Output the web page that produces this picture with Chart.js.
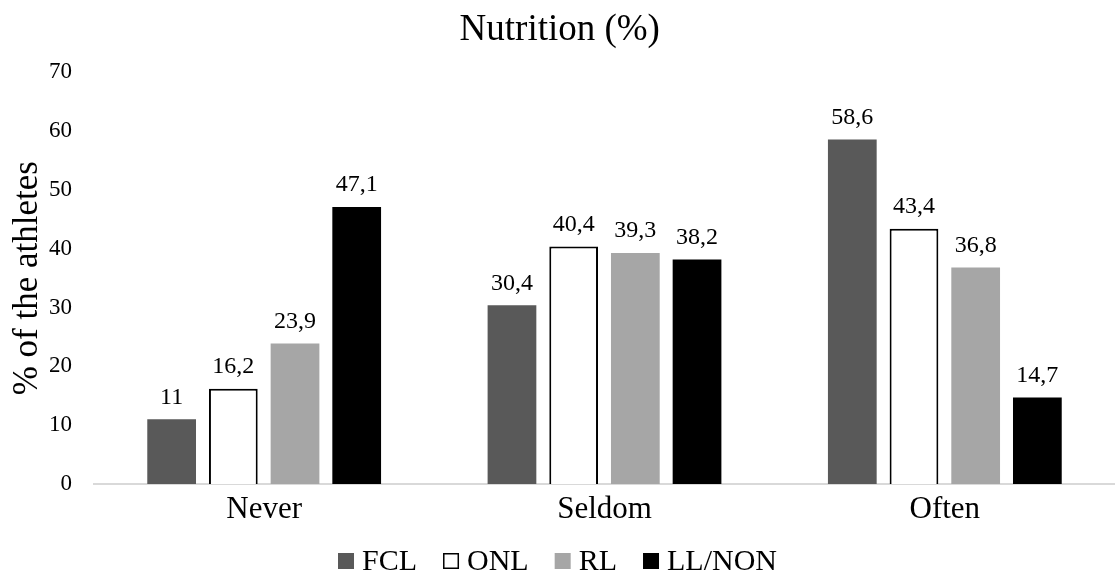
<!DOCTYPE html>
<html>
<head>
<meta charset="utf-8">
<script src="https://cdn.jsdelivr.net/npm/chart.js@4.4.1/dist/chart.umd.min.js"></script>
<style>
  html, body { margin: 0; padding: 0; background: #fff; }
  #wrap { width: 1115px; height: 576px; overflow: hidden; }
</style>
</head>
<body>
<div id="wrap"><canvas id="nutritionChart" width="1115" height="576"></canvas></div>
<script>
// categories and values
const categories = ['Never', 'Seldom', 'Often'];
const fcl = [11, 30.4, 58.6];
const onl = [16.2, 40.4, 43.4];
const rl = [23.9, 39.3, 36.8];
const llNon = [47.1, 38.2, 14.7];
const yTicks = [0, 10, 20, 30, 40, 50, 60, 70];

const serif = '"Liberation Serif", "Times New Roman", serif';

// draws the value above each bar (decimal comma, like the original)
const barValues = {
    id: 'barValues',
    afterDatasetsDraw(chart) {
        const ctx = chart.ctx;
        ctx.save();
        ctx.font = '24px ' + serif;
        ctx.fillStyle = '#000';
        ctx.textAlign = 'center';
        ctx.textBaseline = 'bottom';
        chart.data.datasets.forEach((ds, i) => {
            const meta = chart.getDatasetMeta(i);
            meta.data.forEach((bar, j) => {
                const txt = String(ds.data[j]).replace('.', ',');
                ctx.fillText(txt, bar.x, bar.y - 10);
            });
        });
        ctx.restore();
    }
};

// legend like excel's: small square, short gap, then the name
const bottomLegend = {
    id: 'bottomLegend',
    afterDraw(chart) {
        const ctx = chart.ctx;
        const box = 16, gap = 8, space = 26, y = 561;
        ctx.save();
        ctx.font = '30px ' + serif;
        ctx.textBaseline = 'middle';
        ctx.textAlign = 'left';
        const items = chart.data.datasets.map(ds => ({ ds: ds, w: box + gap + ctx.measureText(ds.label).width }));
        const total = items.reduce((s, it) => s + it.w, 0) + space * (items.length - 1);
        let x = chart.width / 2 - total / 2;
        items.forEach(it => {
            const ds = it.ds;
            ctx.fillStyle = ds.backgroundColor;
            ctx.fillRect(x, y - box / 2, box, box);
            if (ds.borderWidth) {
                ctx.lineWidth = 1.5;
                ctx.strokeStyle = ds.borderColor;
                ctx.strokeRect(x + 0.75, y - box / 2 + 0.75, box - 1.5, box - 1.5);
            }
            ctx.fillStyle = '#000';
            ctx.fillText(ds.label, x + box + gap, y + 1);
            x += it.w + space;
        });
        ctx.restore();
    }
};

const ctx = document.getElementById('nutritionChart').getContext('2d');
new Chart(ctx, {
    type: 'bar',
    data: {
        labels: categories,
        datasets: [
            { label: 'FCL', data: fcl, backgroundColor: '#595959', borderWidth: 0 },
            { label: 'ONL', data: onl, backgroundColor: '#ffffff', borderColor: '#000000', borderWidth: 2 },
            { label: 'RL', data: rl, backgroundColor: '#a6a6a6', borderWidth: 0 },
            { label: 'LL/NON', data: llNon, backgroundColor: '#000000', borderWidth: 0 }
        ]
    },
    options: {
        responsive: false,
        animation: false,
        categoryPercentage: 0.725,
        barPercentage: 0.79,
        // the original is cropped on the right, so the plot runs past the edge
        layout: { padding: { left: 0, right: -4.5, top: 0, bottom: 40 } },
        plugins: {
            tooltip: { enabled: false },
            legend: { display: false },
            title: {
                display: true,
                text: 'Nutrition (%)',
                color: '#000',
                font: { family: serif, size: 37, weight: 'normal' },
                padding: { top: 8, bottom: 20 }
            }
        },
        scales: {
            x: {
                grid: { display: false, drawTicks: false },
                border: { color: '#d9d9d9', width: 2 },
                ticks: { color: '#000', font: { family: serif, size: 31, lineHeight: 1 }, padding: 10.5 }
            },
            y: {
                min: 0,
                max: 70,
                grid: { display: false, drawTicks: false },
                border: { display: false },
                afterBuildTicks(axis) {
                    axis.ticks = yTicks.map(v => ({ value: v }));
                },
                ticks: { color: '#000', font: { family: serif, size: 23 }, padding: 22 },
                title: {
                    display: true,
                    text: '% of the athletes',
                    color: '#000',
                    font: { family: serif, size: 35 },
                    // chart.js counts tick padding twice, so pull the title in
                    padding: { top: 7, bottom: -22 }
                }
            }
        }
    },
    plugins: [barValues, bottomLegend]
});
</script>
</body>
</html>
